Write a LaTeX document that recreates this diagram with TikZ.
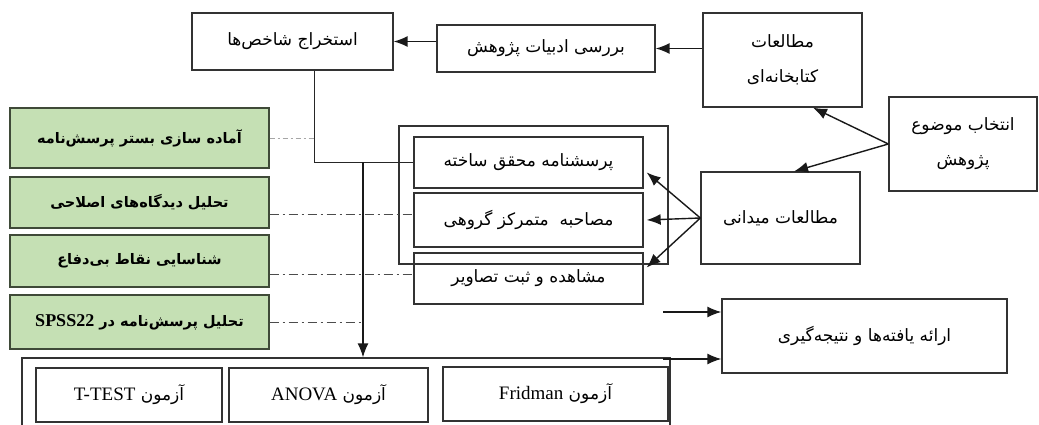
\documentclass[tikz,border=0pt]{standalone}
\usepackage{fontspec}
\setmainfont{Liberation Serif}
\newfontfamily\fa[Script=Arabic]{DejaVu Sans}
\TeXXeTstate=1
\usetikzlibrary{arrows.meta,calc}
\definecolor{grn}{HTML}{C5E0B4}
\definecolor{gbord}{HTML}{3F4A38}
\newcommand{\lat}[1]{\beginL{\rmfamily\fontsize{19}{24}\selectfont #1}\endL}
\newcommand{\latb}[1]{\beginL{\rmfamily\bfseries\fontsize{18}{24}\selectfont #1}\endL}
\tikzset{
  bx/.style={draw=black!80, line width=1.3pt, fill=white, inner sep=0pt, align=center, font=\fa\fontsize{17}{35}\selectfont},
  gbx/.style={bx, draw=gbord, fill=grn, font=\fa\bfseries\fontsize{14.5}{27}\selectfont},
  con/.style={line width=1.4pt, black!90, -{Latex[length=14pt,width=11pt]}},
  ln/.style={line width=1.2pt, black!85},
  dd/.style={line width=0.9pt, dash pattern=on 9pt off 4pt on 2pt off 4pt, black!70},
  ddl/.style={line width=0.9pt, dash pattern=on 5pt off 3pt on 2pt off 3pt, black!35},
}
\begin{document}
\begin{tikzpicture}[x=1pt,y=-1pt]
\useasboundingbox (0,0) rectangle (1039,425);
% top row
\node[bx, minimum width=201pt, minimum height=57pt] (extr) at (292.5,41.5) {\beginR استخراج شاخص‌ها\endR};
\node[bx, minimum width=218pt, minimum height=47pt] (lit) at (546,48.5) {\beginR بررسی ادبیات پژوهش\endR};
\node[bx, minimum width=159pt, minimum height=94pt] (lib) at (782.5,60) {\beginR مطالعات\endR\\\beginR کتابخانه‌ای\endR};
\node[bx, minimum width=148pt, minimum height=94pt] (topic) at (963,144) {\beginR انتخاب موضوع\endR\\\beginR پژوهش\endR};
\node[bx, minimum width=159pt, minimum height=92pt] (field) at (780.5,218) {\beginR مطالعات میدانی\endR};
% middle stack
\node[bx, minimum width=229pt, minimum height=51pt] (q) at (528.5,162.5) {\beginR پرسشنامه محقق ساخته\endR};
\node[bx, minimum width=229pt, minimum height=54pt] (intv) at (528.5,220) {\beginR مصاحبه \ متمرکز گروهی\endR};
\node[bx, minimum width=229pt, minimum height=51pt] (obs) at (528.5,278.5) {\beginR مشاهده و ثبت تصاویر\endR};
\node[draw=black!80, line width=1.3pt, minimum width=269pt, minimum height=138pt, inner sep=0pt] (cont) at (533.5,195) {};
% green boxes
\node[gbx, minimum width=259pt, minimum height=60pt] (g1) at (139.5,138) {\beginR آماده سازی بستر پرسش‌نامه\endR};
\node[gbx, minimum width=259pt, minimum height=51pt] (g2) at (139.5,202.5) {\beginR تحلیل دیدگاه‌های اصلاحی\endR};
\node[gbx, minimum width=259pt, minimum height=52pt] (g3) at (139.5,261) {\beginR شناسایی نقاط بی‌دفاع\endR};
\node[gbx, minimum width=259pt, minimum height=54pt] (g4) at (139.5,322) {\beginR تحلیل پرسش‌نامه در \latb{SPSS22}\endR};
% bottom
\node[draw=black!80, line width=1.3pt, minimum width=648pt, minimum height=82pt, inner sep=0pt] (bot) at (346,399) {};
\node[bx, minimum width=186pt, minimum height=54pt] (tt) at (129,395) {\beginR آزمون \lat{T-TEST}\endR};
\node[bx, minimum width=199pt, minimum height=54pt] (anova) at (328.5,395) {\beginR آزمون \lat{ANOVA}\endR};
\node[bx, minimum width=225pt, minimum height=54pt] (frid) at (555.5,394) {\beginR آزمون \lat{Fridman}\endR};
\node[bx, minimum width=285pt, minimum height=74pt] (res) at (864.5,336) {\beginR ارائه یافته‌ها و نتیجه‌گیری\endR};
% connectors top
\draw[con] (lit.west |- extr.east) -- (extr.east);
\draw[con] (lib.west |- lit.east) -- (lit.east);
\draw[con] (topic.west) -- ($(lib.south east)!0.31!(lib.south west)$);
\draw[con] (topic.west) -- ($(field.north east)!0.415!(field.north west)$);
\draw[con] (field.west) -- ($(q.north east)!0.69!(q.south east)+(3,0)$);
\draw[con] (field.west) -- ($(intv.east)+(3,0)$);
\draw[con] (field.west) -- ($(obs.north east)!0.29!(obs.south east)+(3,0)$);
% extraction line
\coordinate (xs) at ($(extr.south west)!0.61!(extr.south east)$);
\coordinate (j) at (363,162.5);
\draw[ln] (xs) |- (q.west);
\draw[con] (j) -- (j |- bot.north);
% dash-dot lines
\draw[ddl] (g1.east) -- (g1.east -| xs);
\coordinate (d2) at ($(g2.north east)!0.73!(g2.south east)$);
\draw[dd] (d2) -- (d2 -| intv.west);
\coordinate (d3) at ($(g3.north east)!0.75!(g3.south east)$);
\draw[dd] (d3) -- (d3 -| obs.west);
\draw[dd] (g4.east) -- (g4.east -| j);
% to results
\coordinate (r1) at (663,312);
\coordinate (r2) at (663,359);
\draw[con] (r1) -- (r1 -| res.west);
\draw[con] (r2) -- (r2 -| res.west);
\end{tikzpicture}
\end{document}
